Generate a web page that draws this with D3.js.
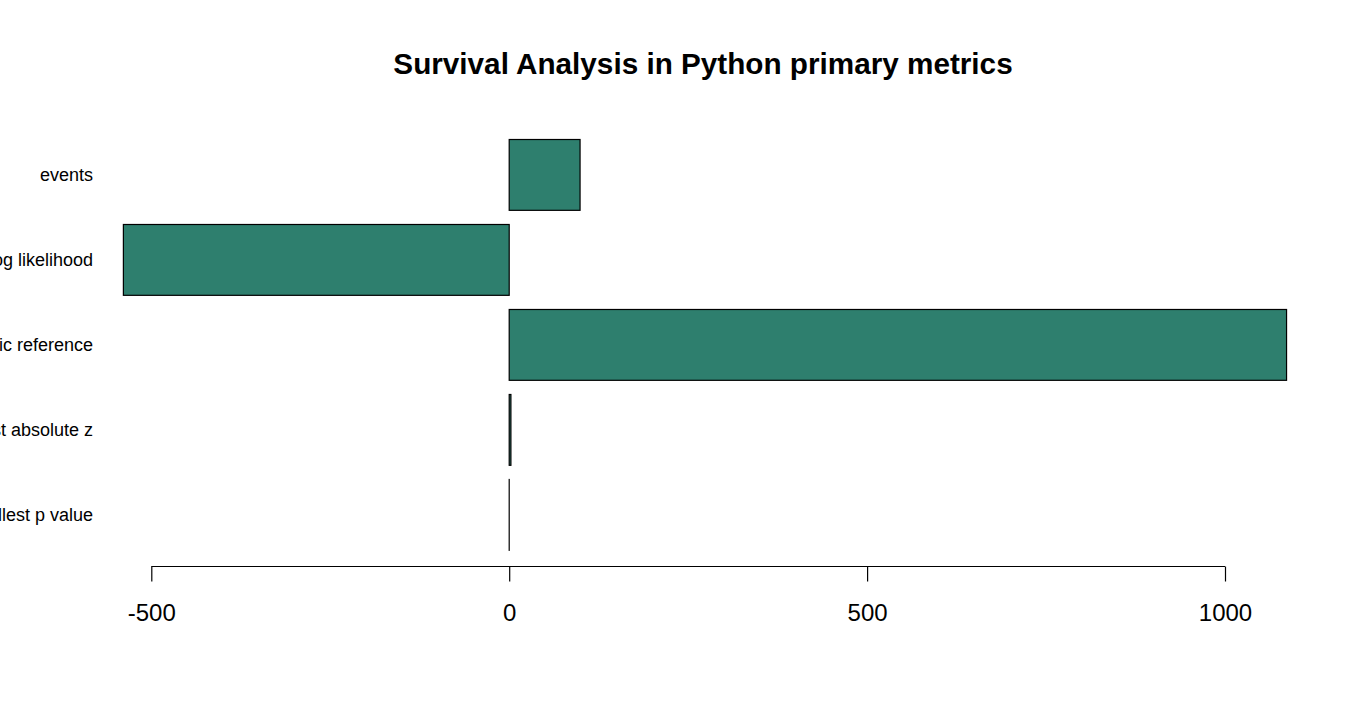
<!DOCTYPE html>
<html>
<head>
<meta charset="utf-8">
<script src="https://cdn.jsdelivr.net/npm/d3@7"></script>
<style>
  body { margin: 0; background: #fff; }
  svg { display: block; font-family: Arial, "Liberation Sans", sans-serif; }
</style>
</head>
<body>
<svg id="chart" width="1350" height="720"></svg>
<script>
// metrics, top to bottom as drawn
let categories = ['events', 'partial log likelihood', 'partial aic reference', 'largest absolute z', 'smallest p value'];
let values = [99, -539, 1086, 2.4, 0.001];
let xTicks = [-500, 0, 500, 1000];

let svg = d3.select('#chart');

let xScale = d3.scaleLinear()
    .domain([-500, 1000])
    .range([151.3, 1225]);

let yScale = d3.scaleBand()
    .domain(categories)
    .range([139.5, 550.3])
    .paddingInner(1 / 6)
    .paddingOuter(0);

// title
svg.append('text')
    .attr('x', 703)
    .attr('y', 74)
    .attr('text-anchor', 'middle')
    .attr('font-size', '29.7px')
    .attr('font-weight', 'bold')
    .text('Survival Analysis in Python primary metrics');

// bars
svg.append('g')
    .attr('class', 'bars')
    .selectAll('rect')
    .data(values)
    .enter()
    .append('rect')
    .attr('x', (d) => xScale(Math.min(0, d)))
    .attr('y', (d, i) => yScale(categories[i]))
    .attr('width', (d) => Math.abs(xScale(d) - xScale(0)))
    .attr('height', yScale.bandwidth())
    .attr('fill', '#2e7f6e')
    .attr('stroke', '#000')
    .attr('stroke-width', 1.2);

// category labels (the long ones run off the left edge, as in the original)
svg.append('g')
    .attr('class', 'labels')
    .selectAll('text')
    .data(categories)
    .enter()
    .append('text')
    .attr('x', 93)
    .attr('y', (d) => yScale(d) + yScale.bandwidth() / 2 + 6.5)
    .attr('text-anchor', 'end')
    .attr('font-size', '18px')
    .text((d) => d);

// x axis
let xAxis = d3.axisBottom(xScale)
    .tickValues(xTicks)
    .tickFormat(d3.format('d'))
    .tickSize(15)
    .tickPadding(22)
    .tickSizeOuter(0);

let gx = svg.append('g')
    .attr('class', 'x_axis')
    .attr('transform', 'translate(0, 566.5)')
    .call(xAxis);

gx.select('.domain')
    .attr('d', 'M' + xScale(xTicks[0]) + ',0H' + xScale(xTicks[xTicks.length - 1]))
    .attr('stroke', '#000')
    .attr('stroke-width', 1.2);
gx.selectAll('.tick line')
    .attr('stroke', '#000')
    .attr('stroke-width', 1.2);
gx.selectAll('.tick text')
    .text((d) => String(d).replace('\u2212', '-'))
    .attr('font-size', '24px')
    .attr('font-family', 'Arial, "Liberation Sans", sans-serif')
    .attr('fill', '#000');
</script>
</body>
</html>
